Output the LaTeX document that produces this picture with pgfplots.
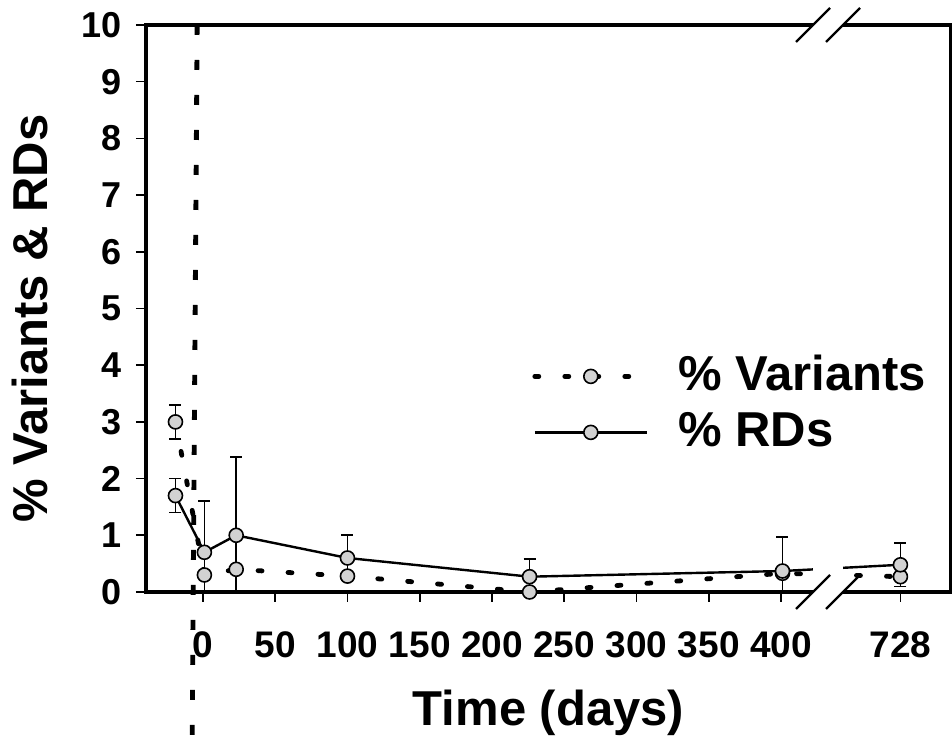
\documentclass[border=0pt]{standalone}
\usepackage{fontspec}
\setmainfont{Liberation Sans}
\usepackage{pgfplots}
\pgfplotsset{compat=1.18}
\usetikzlibrary{calc}

% broken time axis: day 728 is plotted at x = 482.6 (gap drawn between 422 and 443)
\pgfplotstableread{
x      y     e
-19    3.0   0.3
1      0.3   0
23     0.4   0
100    0.28  0
226    0.0   0
401    0.33  0
482.6  0.27  0
}\variants
\pgfplotstableread{
x      y     e
-19    1.7   0.3
1      0.7   0.9
23     1.0   1.38
100    0.6   0.4
226    0.27  0.31
401    0.37  0.6
482.6  0.48  0.38
}\rds

\begin{document}
\begin{tikzpicture}
\begin{axis}[
  scale only axis,
  width=402.5pt, height=283.5pt,
  xmin=-39.4, xmax=517.6,
  ymin=0, ymax=10,
  axis line style={line width=1.6pt},
  xtick={0,50,...,400,482.6},
  xticklabels={0,50,100,150,200,250,300,350,400,728},
  ytick={0,1,...,10},
  tick align=outside,
  tick pos=left,
  major tick length=5pt,
  tick style={line width=0.8pt, black},
  /pgf/number format/assume math mode=true,
  yticklabel style={font=\bfseries\fontsize{18}{20}\selectfont, xshift=-3.5pt},
  xticklabel style={font=\bfseries\fontsize{18.5}{20}\selectfont, yshift=-11.5pt},
  xlabel={Time (days)},
  xlabel style={at={(axis description cs:0.5,-0.2346)}, anchor=base, font=\bfseries\fontsize{24.5}{28}\selectfont},
  ylabel={\% Variants \& RDs},
  ylabel style={at={(axis description cs:-0.144,0.482)}, anchor=center, font=\bfseries\fontsize{24.5}{28}\selectfont},
  legend style={at={(axis description cs:0.4795,0.4233)}, anchor=north west, draw=none, fill=none,
    inner sep=0pt, row sep=4pt, column sep=13.5pt,
    nodes={inner sep=1pt, text height=18pt, text depth=4pt},
    font=\bfseries\fontsize{24.5}{28}\selectfont},
  legend cell align=left,
  legend image code/.code={
    \draw[mark repeat=2,mark phase=2] plot coordinates {(0pt,0pt) (28pt,0pt) (56pt,0pt)};
  },
]
\addplot[black, line width=2.4pt, dash pattern=on 2pt off 13pt, line cap=round,
  mark=*, mark size=3.5pt, mark options={solid, fill=gray!35, draw=black, line width=0.8pt},
  error bars/.cd, y dir=both, y explicit,
  error bar style={solid, line cap=butt, line width=0.8pt},
  error mark options={rotate=90, solid, black, mark size=3pt, line width=0.8pt}]
  table[x=x, y=y, y error=e] {\variants};
\addlegendentry{\% Variants}
\addplot[black, line width=1.2pt,
  mark=*, mark size=3.5pt, mark options={solid, fill=gray!35, draw=black, line width=0.8pt},
  error bars/.cd, y dir=both, y explicit,
  error bar style={line width=0.8pt},
  error mark options={rotate=90, black, mark size=3pt, line width=0.8pt}]
  table[x=x, y=y, y error=e] {\rds};
\addlegendentry{\% RDs}

\coordinate (SW) at (rel axis cs:0,0);
\coordinate (NE) at (rel axis cs:1,1);
\coordinate (g1) at (axis cs:422.1,0);
\coordinate (g2) at (axis cs:442.9,0);
\coordinate (g3) at (axis cs:422.1,10);
\coordinate (g4) at (axis cs:442.9,10);
\coordinate (vt) at (axis cs:-4,10);
\coordinate (vb) at (axis cs:-7.5,-2.645);
\end{axis}

% axis break
\fill[white] ($(g1)+(0,-1.5pt)$) rectangle ($(g2)+(0,30pt)$);
\fill[white] ($(g3)+(0,-1.5pt)$) rectangle ($(g4)+(0,1.5pt)$);
\foreach \c in {g1,g2,g3,g4}
  \draw[line width=1.2pt] ($(\c)+(-8.5pt,-8.5pt)$) -- ++(17pt,17pt);

% vertical marker line at day 0
\draw[line width=2.4pt, dash pattern=on 5pt off 12.5pt] (vt) -- (vb);

\pgfresetboundingbox
\path[use as bounding box] ($(SW)+(-73pt,-75pt)$) rectangle ($(NE)+(0.5pt,12.5pt)$);
\end{tikzpicture}
\end{document}
